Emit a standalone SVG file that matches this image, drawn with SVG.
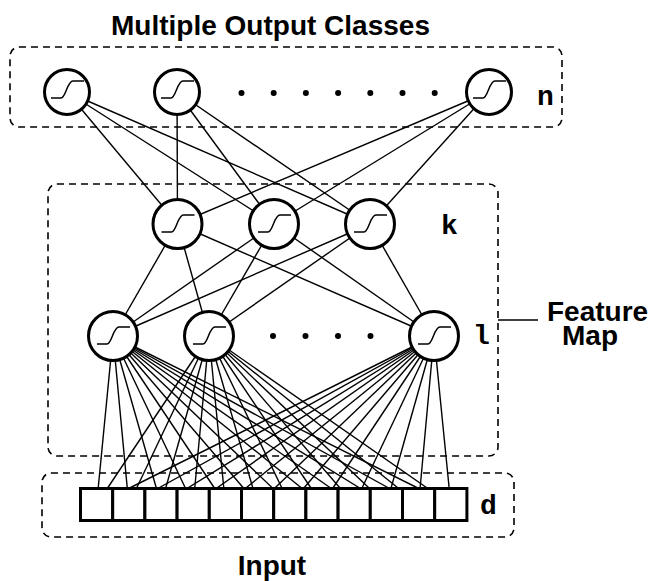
<svg xmlns="http://www.w3.org/2000/svg" width="652" height="581" viewBox="0 0 652 581">
<defs>
<style>
.lbl{font-family:"Liberation Sans",Arial,sans-serif;font-weight:bold;font-size:28px;fill:#000}
.mono{font-family:"Liberation Mono","Courier New",monospace;font-weight:bold;font-size:28px;fill:#000}
.dash{fill:none;stroke:#000;stroke-width:1.6;stroke-dasharray:7 5}
.conn line{stroke:#000;stroke-width:1.4}
.neu{fill:#fff;stroke:#000;stroke-width:3}
.sig{fill:none;stroke:#000;stroke-width:1.5}
.box{fill:#fff;stroke:#000;stroke-width:3}
</style>
<path id="sg" class="sig" d="M -16,8 H -6 C -1,8 0,-9 6,-9 H 17"/>
</defs>
<rect width="652" height="581" fill="#fff"/>
<text class="lbl" x="270.5" y="35" text-anchor="middle">Multiple Output Classes</text>
<rect class="dash" x="10" y="47" width="552" height="80" rx="9"/>
<rect class="dash" x="48" y="184" width="450" height="272" rx="9"/>
<rect class="dash" x="42" y="473" width="472" height="64" rx="9"/>
<g id="connectors" class="conn">
<line x1="67" y1="92" x2="177.5" y2="224"/><line x1="67" y1="92" x2="274" y2="224"/><line x1="67" y1="92" x2="370" y2="224"/>
<line x1="177" y1="92" x2="177.5" y2="224"/><line x1="177" y1="92" x2="274" y2="224"/><line x1="177" y1="92" x2="370" y2="224"/>
<line x1="489" y1="92" x2="177.5" y2="224"/><line x1="489" y1="92" x2="274" y2="224"/><line x1="489" y1="92" x2="370" y2="224"/>
<line x1="177.5" y1="224" x2="113" y2="336"/><line x1="177.5" y1="224" x2="209" y2="336"/><line x1="177.5" y1="224" x2="434" y2="336"/>
<line x1="274" y1="224" x2="113" y2="336"/><line x1="274" y1="224" x2="209" y2="336"/><line x1="274" y1="224" x2="434" y2="336"/>
<line x1="370" y1="224" x2="113" y2="336"/><line x1="370" y1="224" x2="209" y2="336"/><line x1="370" y1="224" x2="434" y2="336"/>
<line x1="113" y1="336" x2="96.6" y2="504.5"/><line x1="113" y1="336" x2="128.8" y2="504.5"/><line x1="113" y1="336" x2="161" y2="504.5"/><line x1="113" y1="336" x2="193.2" y2="504.5"/><line x1="113" y1="336" x2="225.4" y2="504.5"/><line x1="113" y1="336" x2="257.6" y2="504.5"/><line x1="113" y1="336" x2="289.8" y2="504.5"/><line x1="113" y1="336" x2="322" y2="504.5"/><line x1="113" y1="336" x2="354.2" y2="504.5"/><line x1="113" y1="336" x2="386.4" y2="504.5"/><line x1="113" y1="336" x2="418.6" y2="504.5"/><line x1="113" y1="336" x2="450.8" y2="504.5"/>
<line x1="209" y1="336" x2="96.6" y2="504.5"/><line x1="209" y1="336" x2="128.8" y2="504.5"/><line x1="209" y1="336" x2="161" y2="504.5"/><line x1="209" y1="336" x2="193.2" y2="504.5"/><line x1="209" y1="336" x2="225.4" y2="504.5"/><line x1="209" y1="336" x2="257.6" y2="504.5"/><line x1="209" y1="336" x2="289.8" y2="504.5"/><line x1="209" y1="336" x2="322" y2="504.5"/><line x1="209" y1="336" x2="354.2" y2="504.5"/><line x1="209" y1="336" x2="386.4" y2="504.5"/><line x1="209" y1="336" x2="418.6" y2="504.5"/><line x1="209" y1="336" x2="450.8" y2="504.5"/>
<line x1="434" y1="336" x2="96.6" y2="504.5"/><line x1="434" y1="336" x2="128.8" y2="504.5"/><line x1="434" y1="336" x2="161" y2="504.5"/><line x1="434" y1="336" x2="193.2" y2="504.5"/><line x1="434" y1="336" x2="225.4" y2="504.5"/><line x1="434" y1="336" x2="257.6" y2="504.5"/><line x1="434" y1="336" x2="289.8" y2="504.5"/><line x1="434" y1="336" x2="322" y2="504.5"/><line x1="434" y1="336" x2="354.2" y2="504.5"/><line x1="434" y1="336" x2="386.4" y2="504.5"/><line x1="434" y1="336" x2="418.6" y2="504.5"/><line x1="434" y1="336" x2="450.8" y2="504.5"/>
<line x1="498" y1="320" x2="538" y2="320"/>
</g>
<g id="out1"><circle class="neu" cx="67" cy="92" r="22.5" stroke-width="2.8"/><use href="#sg" transform="translate(67,90)"/></g>
<g id="out2"><circle class="neu" cx="177" cy="92" r="22.5" stroke-width="2.8"/><use href="#sg" transform="translate(177,90)"/></g>
<g id="out3"><circle class="neu" cx="489" cy="92" r="22.5" stroke-width="2.8"/><use href="#sg" transform="translate(489,90)"/></g>
<g id="outdots"><circle cx="241.5" cy="93" r="3"/><circle cx="273.7" cy="93" r="3"/><circle cx="305.9" cy="93" r="3"/><circle cx="338.1" cy="93" r="3"/><circle cx="370.3" cy="93" r="3"/><circle cx="402.5" cy="93" r="3"/><circle cx="434.7" cy="93" r="3"/></g>
<text class="mono" x="537" y="105">n</text>
<g id="k1"><circle class="neu" cx="177.5" cy="224" r="24.5"/><use href="#sg" transform="translate(177.5,224)"/></g>
<g id="k2"><circle class="neu" cx="274" cy="224" r="24.5"/><use href="#sg" transform="translate(274,224)"/></g>
<g id="k3"><circle class="neu" cx="370" cy="224" r="24.5"/><use href="#sg" transform="translate(370,224)"/></g>
<text class="mono" x="441" y="234">k</text>
<g id="l1"><circle class="neu" cx="113" cy="336" r="24.5"/><use href="#sg" transform="translate(113,336)"/></g>
<g id="l2"><circle class="neu" cx="209" cy="336" r="24.5"/><use href="#sg" transform="translate(209,336)"/></g>
<g id="l3"><circle class="neu" cx="434" cy="336" r="24.5"/><use href="#sg" transform="translate(434,336)"/></g>
<g id="ldots"><circle cx="273" cy="336" r="3"/><circle cx="305.5" cy="336" r="3"/><circle cx="338" cy="336" r="3"/><circle cx="370.5" cy="336" r="3"/></g>
<text class="mono" x="473" y="344">l</text>
<g id="input">
<rect class="box" x="80.5" y="488.5" width="32.2" height="32"/><rect class="box" x="112.7" y="488.5" width="32.2" height="32"/><rect class="box" x="144.9" y="488.5" width="32.2" height="32"/><rect class="box" x="177.1" y="488.5" width="32.2" height="32"/><rect class="box" x="209.3" y="488.5" width="32.2" height="32"/><rect class="box" x="241.5" y="488.5" width="32.2" height="32"/><rect class="box" x="273.7" y="488.5" width="32.2" height="32"/><rect class="box" x="305.9" y="488.5" width="32.2" height="32"/><rect class="box" x="338.1" y="488.5" width="32.2" height="32"/><rect class="box" x="370.3" y="488.5" width="32.2" height="32"/><rect class="box" x="402.5" y="488.5" width="32.2" height="32"/><rect class="box" x="434.7" y="488.5" width="32.2" height="32"/>
</g>
<text class="mono" x="480" y="514">d</text>
<text class="lbl" x="547" y="321">Feature</text>
<text class="lbl" x="562" y="345">Map</text>
<text class="lbl" x="272" y="575" text-anchor="middle">Input</text>
</svg>
